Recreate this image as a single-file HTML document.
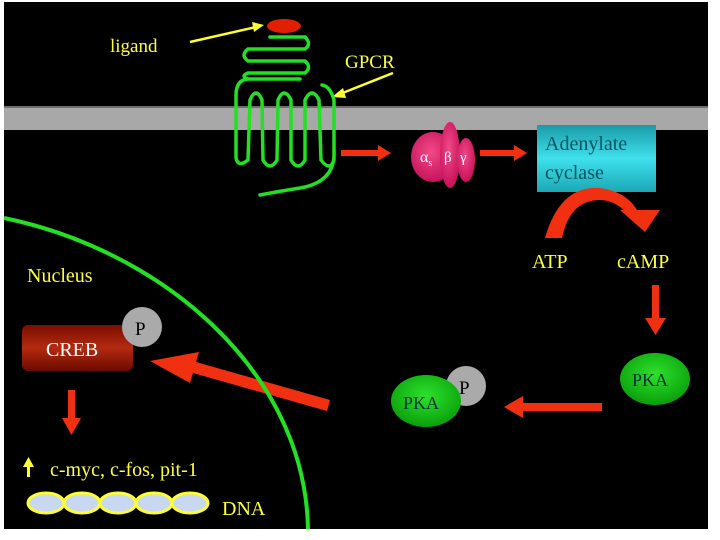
<!DOCTYPE html>
<html><head><meta charset="utf-8"><style>
html,body{margin:0;padding:0;background:#fff;}
svg{display:block;}
text{font-family:"Liberation Serif",serif;}
</style></head><body>
<svg width="720" height="540" viewBox="0 0 720 540" xmlns="http://www.w3.org/2000/svg">
<defs>
<linearGradient id="cy" x1="0" y1="0" x2="0" y2="1"><stop offset="0" stop-color="#1a9aa8"/><stop offset="0.5" stop-color="#3fe0ec"/><stop offset="1" stop-color="#1aa8b6"/></linearGradient>
<linearGradient id="cr" x1="0" y1="0" x2="0" y2="1"><stop offset="0" stop-color="#7a0e00"/><stop offset="0.5" stop-color="#b42a10"/><stop offset="1" stop-color="#6a0a00"/></linearGradient>
<radialGradient id="gr" cx="0.5" cy="0.4" r="0.6"><stop offset="0" stop-color="#2ee02e"/><stop offset="1" stop-color="#0aa00a"/></radialGradient>
<radialGradient id="pk" cx="0.45" cy="0.4" r="0.6"><stop offset="0" stop-color="#f04a88"/><stop offset="1" stop-color="#c8125a"/></radialGradient>
</defs>
<rect x="4" y="2" width="704" height="527" fill="#000"/>
<rect x="4" y="108" width="704" height="22" fill="#a8a8a8"/>
<line x1="4" y1="107" x2="708" y2="107" fill="none" stroke="#ddd" stroke-width="1"/>
<ellipse cx="284" cy="26" rx="17" ry="7" fill="#e02000"/>
<line x1="190" y1="42" x2="256" y2="27" stroke="#ffff30" stroke-width="2.5"/>
<polygon points="264,25 252,22 254,32" fill="#ffff30"/>
<text x="110" y="52" font-size="19" fill="#ffff40">ligand</text>
<text x="345" y="68" font-size="19" fill="#ffff40">GPCR</text>
<line x1="393" y1="73" x2="340" y2="94" stroke="#ffff30" stroke-width="2.5"/>
<polygon points="332,97 343,88 346,98" fill="#ffff30"/>
<path d="M270,37 L305,37 Q312,44 305,49 L248,49 Q240,55 248,61 L305,61 Q312,67 305,73 L248,73 Q240,76 248,79 L300,79 Q300,79 300,79 M248,79 Q236,80 236,95 L236,158 Q238,168 248,160 L250,100 Q256,86 262,100 L263,160 Q270,172 277,160 L278,100 Q284,86 291,100 L291,160 Q298,172 305,160 L305,100 Q312,86 319,100 L321,160 Q330,172 334,160 L334,100 Q330,86 322,85 M334,150 Q336,182 300,188 Q275,192 260,195" fill="none" stroke="#22e022" stroke-width="3.5" stroke-linecap="round"/>
<rect x="341" y="150" width="38" height="6" fill="#f03010"/>
<polygon points="378,145 391,153 378,161" fill="#f03010"/>
<ellipse cx="433" cy="157" rx="22" ry="25" fill="url(#pk)"/>
<ellipse cx="450" cy="155" rx="10" ry="33" fill="url(#pk)"/>
<ellipse cx="466" cy="160" rx="9" ry="22" fill="url(#pk)"/>
<text x="420" y="162" font-size="16" fill="#fff">α<tspan font-size="10" dy="4">s</tspan></text>
<text x="444" y="162" font-size="15" fill="#fff">β</text>
<text x="460" y="162" font-size="15" fill="#fff">γ</text>
<rect x="480" y="150" width="35" height="6" fill="#f03010"/>
<polygon points="514,145 527,153 514,161" fill="#f03010"/>
<rect x="537" y="125" width="119" height="67" fill="url(#cy)"/>
<text x="545" y="150" font-size="20" fill="#0a5560">Adenylate</text>
<text x="545" y="179" font-size="20" fill="#0a5560">cyclase</text>
<path d="M545,238 Q560,185 600,188 Q628,192 638,212 L626,212 Q614,200 600,200 Q570,200 562,238 Z" fill="#f03010"/>
<polygon points="620,210 660,210 645,232" fill="#f03010"/>
<text x="532" y="268" font-size="20" fill="#ffff40">ATP</text>
<text x="617" y="268" font-size="20" fill="#ffff40">cAMP</text>
<rect x="652" y="285" width="7" height="35" fill="#f03010"/>
<polygon points="645,318 666,318 655.5,335" fill="#f03010"/>
<ellipse cx="655" cy="379" rx="35" ry="26" fill="url(#gr)"/>
<text x="632" y="386" font-size="18" fill="#033">PKA</text>
<rect x="522" y="403" width="80" height="8" fill="#f03010"/>
<polygon points="523,396 504,407 523,418" fill="#f03010"/>
<circle cx="466" cy="386" r="20" fill="#aaa"/>
<text x="459" y="394" font-size="19" fill="#000">P</text>
<ellipse cx="426" cy="401" rx="35" ry="26" fill="url(#gr)"/>
<text x="403" y="409" font-size="18" fill="#033">PKA</text>
<polygon points="330,400 196,362 199,352 150,361 190,383 193,373 327,411" fill="#f03010"/>
<path d="M4,218 C160,250 305,370 308,529" fill="none" stroke="#22e022" stroke-width="4"/>
<text x="27" y="282" font-size="20" fill="#ffff40">Nucleus</text>
<rect x="22" y="325" width="111" height="46" rx="6" fill="url(#cr)"/>
<text x="46" y="356" font-size="20" fill="#fff">CREB</text>
<circle cx="142" cy="327" r="20" fill="#aaa"/>
<text x="135" y="335" font-size="19" fill="#000">P</text>
<rect x="68" y="390" width="7" height="30" fill="#f03010"/>
<polygon points="62,418 81,418 71.5,435" fill="#f03010"/>
<rect x="27" y="466" width="3" height="11" fill="#ffff30"/>
<polygon points="23,467 34,467 28.5,457" fill="#ffff30"/>
<text x="50" y="476" font-size="20" fill="#ffff40">c-myc, c-fos, pit-1</text>
<g stroke="#ffff30" stroke-width="3" fill="#c8d8f0">
<ellipse cx="46" cy="503" rx="18" ry="10"/>
<ellipse cx="82" cy="503" rx="18" ry="10"/>
<ellipse cx="118" cy="503" rx="18" ry="10"/>
<ellipse cx="154" cy="503" rx="18" ry="10"/>
<ellipse cx="190" cy="503" rx="18" ry="10"/>
</g>
<text x="222" y="515" font-size="20" fill="#ffff40">DNA</text>
</svg>
</body></html>
